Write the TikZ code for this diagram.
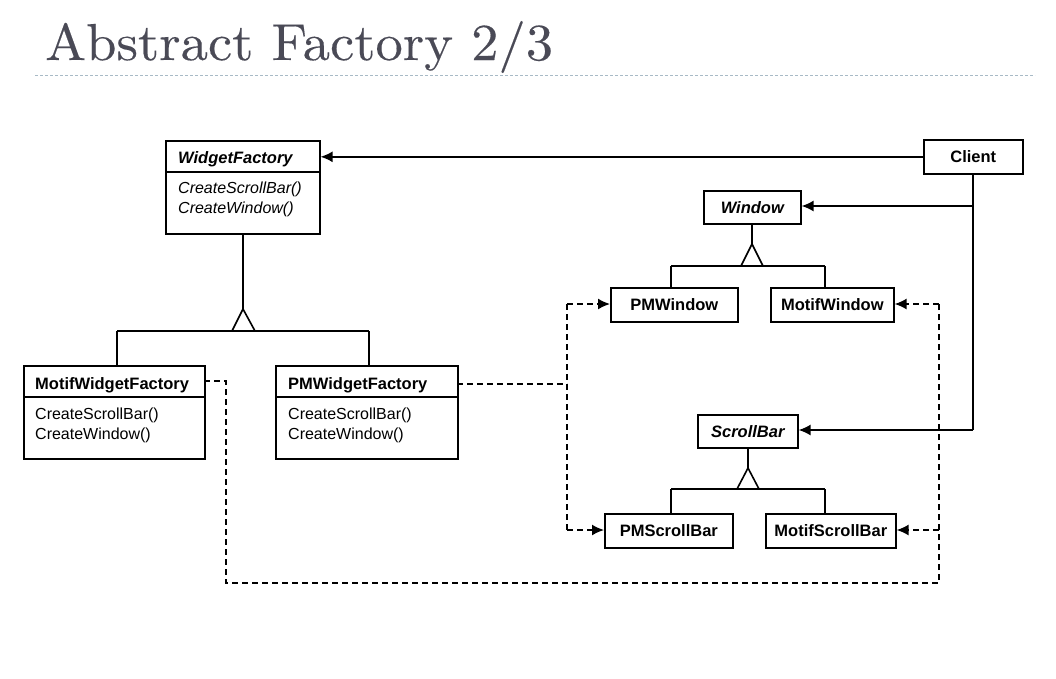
\documentclass[tikz,border=0pt]{standalone}
\usepackage{fontspec}
\setsansfont{Liberation Sans}
\newfontfamily\titlefont[FakeStretch=1.05,FakeBold=0.25]{lmroman10-regular.otf}
\usetikzlibrary{arrows.meta}
\definecolor{titlegray}{HTML}{4A4A56}
\definecolor{rulecol}{HTML}{A8BAC6}
\tikzset{
  cls/.style={draw, line width=1.6pt, anchor=north west, inner sep=0pt},
  cname/.style={font=\sffamily\bfseries\fontsize{16.5}{18}\selectfont, inner sep=0pt},
  aname/.style={font=\sffamily\bfseries\itshape\fontsize{16.5}{18}\selectfont, inner sep=0pt},
  meth/.style={font=\sffamily\fontsize{16}{20}\selectfont, inner sep=0pt, align=left, anchor=north west},
  ameth/.style={font=\sffamily\itshape\fontsize{16}{20}\selectfont, inner sep=0pt, align=left, anchor=north west},
  conn/.style={line width=1.6pt},
  dconn/.style={line width=1.6pt, dash pattern=on 6pt off 4pt},
  arr/.style={-{Latex[length=12pt,width=11pt]}},
  tri/.style={line width=1.6pt, fill=white, line join=miter},
}
\begin{document}
\begin{tikzpicture}[x=1pt,y=-1pt]
\useasboundingbox (0,0) rectangle (1056,678);
% title
\node[anchor=base west, inner sep=0pt, text=titlegray, font=\titlefont\fontsize{52}{60}\selectfont] (title) at (45,60) {Abstract Factory 2/3};
\draw[rulecol, line width=0.8pt, dash pattern=on 3pt off 2pt] (35,75) coordinate (r1) -- (1035,75) coordinate (r2);

% classes
\node[cls, minimum width=154, minimum height=93] (wf) at (165,140) {};
\draw[conn] ([yshift=-32pt]wf.north west) -- ([yshift=-32pt]wf.north east);
\node[aname, anchor=base west] (wfn) at (178,163.5) {WidgetFactory};
\node[ameth] (wfm) at (178,182) {CreateScrollBar()\\CreateWindow()};

\node[cls, minimum width=181, minimum height=93] (mwf) at (23,365) {};
\draw[conn] ([yshift=-32pt]mwf.north west) -- ([yshift=-32pt]mwf.north east);
\node[cname, anchor=base west] (mwfn) at (35,389) {MotifWidgetFactory};
\node[meth] (mwfm) at (35,408) {CreateScrollBar()\\CreateWindow()};

\node[cls, minimum width=182, minimum height=93] (pwf) at (275,365) {};
\draw[conn] ([yshift=-32pt]pwf.north west) -- ([yshift=-32pt]pwf.north east);
\node[cname, anchor=base west] (pwfn) at (288,389) {PMWidgetFactory};
\node[meth] (pwfm) at (288,408) {CreateScrollBar()\\CreateWindow()};

\node[cls, minimum width=99, minimum height=34] (client) at (923,139) {};
\node[cname] (clientn) at (client.center) {Client};

\node[cls, minimum width=97, minimum height=33] (win) at (703,190) {};
\node[aname] (winn) at (win.center) {Window};
\node[cls, minimum width=127, minimum height=34] (pmw) at (610,287) {};
\node[cname] (pmwn) at (pmw.center) {PMWindow};
\node[cls, minimum width=123, minimum height=34] (mw) at (770,287) {};
\node[cname] (mwn) at (mw.center) {MotifWindow};

\node[cls, minimum width=100, minimum height=33] (sb) at (697,414) {};
\node[aname] (sbn) at (sb.center) {ScrollBar};
\node[cls, minimum width=128, minimum height=34] (pms) at (604,513) {};
\node[cname] (pmsn) at (pms.center) {PMScrollBar};
\node[cls, minimum width=130, minimum height=34] (ms) at (765,513) {};
\node[cname] (msn) at (ms.center) {MotifScrollBar};

% client associations
\draw[conn, arr] (client.west) -- (client.west -| wf.east);
\coordinate (cb) at (973,430);
\coordinate (cw) at (973,206);
\draw[conn] (client.south -| cb) -- (cb);
\draw[conn, arr] (cw) -- (cw -| win.east);
\draw[conn, arr] (cb) -- (cb -| sb.east);

% inheritance WidgetFactory
\coordinate (wfa) at (243,309);
\coordinate (wfh1) at (117,331);
\coordinate (wfh2) at (369,331);
\draw[conn] (wf.south -| wfa) -- (wfa);
\draw[conn] (wfh1) -- (wfh2);
\draw[conn] (wfh1) -- (wfh1 |- mwf.north);
\draw[conn] (wfh2) -- (wfh2 |- pwf.north);
\draw[tri] (wfa) -- (232,331) -- (255,331) -- cycle;

% inheritance Window
\coordinate (wa) at (752,244);
\coordinate (wh1) at (671,266);
\coordinate (wh2) at (825,266);
\draw[conn] (win.south -| wa) -- (wa);
\draw[conn] (wh1) -- (wh2);
\draw[conn] (wh1) -- (wh1 |- pmw.north);
\draw[conn] (wh2) -- (wh2 |- mw.north);
\draw[tri] (wa) -- (741,266) -- (763,266) -- cycle;

% inheritance ScrollBar
\coordinate (sa) at (748,468);
\coordinate (sh1) at (671,489);
\coordinate (sh2) at (825,489);
\draw[conn] (sb.south -| sa) -- (sa);
\draw[conn] (sh1) -- (sh2);
\draw[conn] (sh1) -- (sh1 |- pms.north);
\draw[conn] (sh2) -- (sh2 |- ms.north);
\draw[tri] (sa) -- (737,489) -- (759,489) -- cycle;

% dashed: PMWidgetFactory
\coordinate (p1) at (457,384);
\coordinate (p2) at (567,384);
\coordinate (p3) at (567,304);
\coordinate (p4) at (567,530);
\draw[dconn] (p1) -- (p2);
\draw[dconn] (p3) -- (p4);
\draw[dconn, arr] (p3) -- (p3 -| pmw.west);
\draw[dconn, arr] (p4) -- (p4 -| pms.west);

% dashed: MotifWidgetFactory
\coordinate (m1) at (204,381);
\coordinate (m2) at (226,381);
\coordinate (m3) at (226,583);
\coordinate (m4) at (939,583);
\coordinate (m5) at (939,304);
\coordinate (m6) at (939,530);
\draw[dconn] (m1) -- (m2) -- (m3) -- (m4) -- (m5);
\draw[dconn, arr] (m5) -- (m5 -| mw.east);
\draw[dconn, arr] (m6) -- (m6 -| ms.east);
\end{tikzpicture}
\end{document}
